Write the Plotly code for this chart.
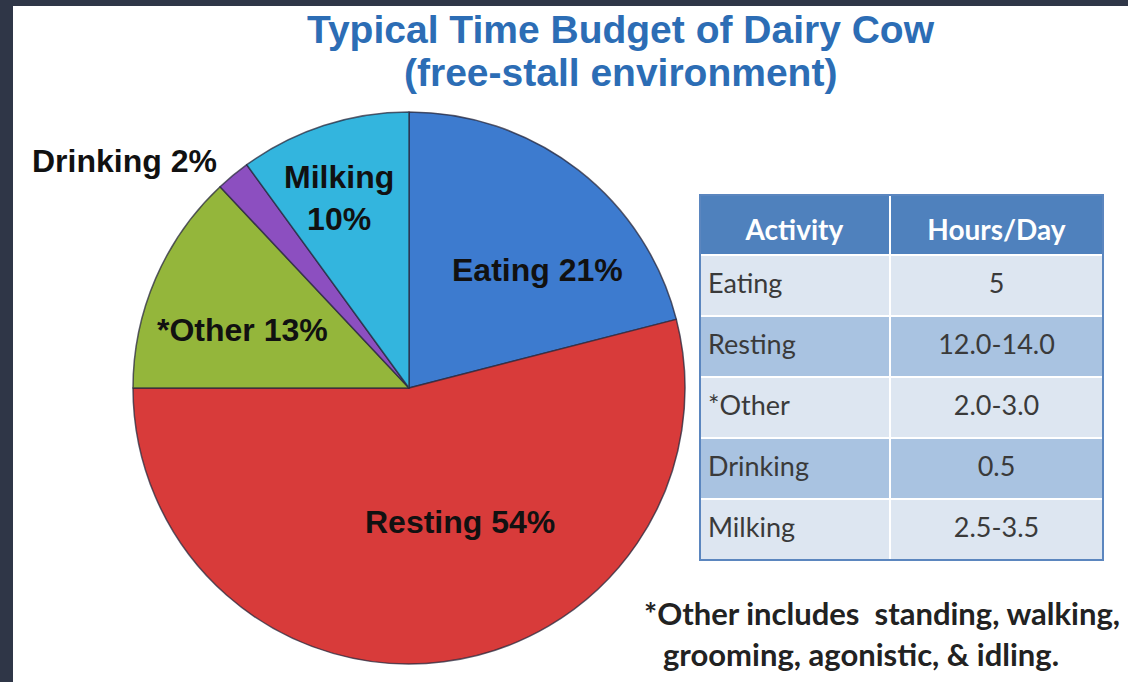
import plotly.graph_objects as go

W, H = 1128, 682

# data
activities = ["Eating", "Resting", "*Other", "Drinking", "Milking"]
pie_labels = ["Eating", "Resting", "*Other", "Drinking", "Milking"]
shares = [21, 54, 13, 2, 10]
hours = ["5", "12.0-14.0", "2.0-3.0", "0.5", "2.5-3.5"]
table_header = ["Activity", "Hours/Day"]
slice_colors = ["#3d7bcf", "#d83b3a", "#94b63b", "#8c4fc0", "#33b5de"]

title_lines = ["Typical Time Budget of Dairy Cow", "(free-stall environment)"]
footnote = ["*Other includes  standing, walking,", "grooming, agonistic, & idling."]


def px(x, y):
    """pikselposisjon -> paper-koordinater"""
    return x / W, 1 - y / H


fig = go.Figure()

# Kakediagram
fig.add_trace(go.Pie(
    labels=pie_labels,
    values=shares,
    sort=False,
    direction="clockwise",
    rotation=0,
    textinfo="none",
    hoverinfo="label+percent",
    marker=dict(colors=slice_colors, line=dict(color="rgba(40,40,60,0.75)", width=1.5)),
    domain=dict(x=[133 / W, 685 / W], y=[1 - 664 / H, 1 - 112 / H]),
    showlegend=False,
))

# Tabell - bakgrunn (fyll og linjer)
light, mid = "#dde6f1", "#a9c3e1"
row_fill = [light if i % 2 == 0 else mid for i in range(len(activities))]
blank = [""] * len(activities)
fig.add_trace(go.Table(
    domain=dict(x=[700 / W, 1103 / W], y=[1 - 560 / H, 1 - 195 / H]),
    columnwidth=[190, 213],
    header=dict(values=["", ""], fill_color="#4f81bd", height=60,
                line=dict(color="white", width=2)),
    cells=dict(values=[blank, blank], fill_color=[row_fill, row_fill], height=61,
               line=dict(color="white", width=2)),
))

# Tabell - tekst (flyttet ned litt for vertikal sentrering)
fig.add_trace(go.Table(
    domain=dict(x=[700 / W, 1103 / W], y=[1 - 570 / H, 1 - 204 / H]),
    columnwidth=[190, 213],
    header=dict(
        values=[f"<b>{h}</b>" for h in table_header],
        fill_color="rgba(0,0,0,0)",
        font=dict(family="Lato", size=28, color="white"),
        align="center",
        height=61,
        line=dict(width=0, color="rgba(0,0,0,0)"),
    ),
    cells=dict(
        values=[activities, hours],
        fill_color="rgba(0,0,0,0)",
        font=dict(family="Lato", size=27, color="#3a3a3a"),
        align=["left", "center"],
        height=61,
        line=dict(width=0, color="rgba(0,0,0,0)"),
    ),
))

# Tabellramme
x0, y1 = px(700, 195)
x1, y0 = px(1103, 560)
fig.add_shape(type="rect", xref="paper", yref="paper", x0=x0, x1=x1, y0=y0, y1=y1,
              line=dict(color="#5b86bf", width=2))

# Mørk kant venstre og topp
fig.add_shape(type="rect", xref="paper", yref="paper", x0=0, x1=13 / W, y0=0, y1=1,
              fillcolor="#2f3647", line=dict(width=0))
fig.add_shape(type="rect", xref="paper", yref="paper", x0=0, x1=1, y0=1 - 6 / H, y1=1,
              fillcolor="#2f3647", line=dict(width=0))

# Tittel
for line, (cx, cy) in zip(title_lines, [(621, 30), (620, 72)]):
    x, y = px(cx, cy)
    fig.add_annotation(x=x, y=y, xref="paper", yref="paper", text=f"<b>{line}</b>",
                       showarrow=False, xanchor="center", yanchor="middle",
                       font=dict(family="Liberation Sans", size=39, color="#2c6db5"))

# Etiketter i kaka
label_pos = {
    "Eating": (537, 270, "center"),
    "Resting": (460, 522, "center"),
    "*Other": (242, 330, "center"),
    "Drinking": (30, 161, "left"),
    "Milking": (339, 198, "center"),
}
for lab, val in zip(pie_labels, shares):
    cx, cy, anc = label_pos[lab]
    x, y = px(cx, cy)
    txt = f"{lab}<br>{val}%" if lab == "Milking" else f"{lab} {val}%"
    fig.add_annotation(x=x, y=y, xref="paper", yref="paper", text=f"<b>{txt}</b>",
                       showarrow=False, xanchor=anc, yanchor="middle",
                       font=dict(family="Liberation Sans", size=32, color="#111111"))

# Fotnote
for line, (lx, ly) in zip(footnote, [(642, 613), (661, 654)]):
    x, y = px(lx, ly)
    fig.add_annotation(x=x, y=y, xref="paper", yref="paper", text=f"<b>{line}</b>",
                       showarrow=False, xanchor="left", yanchor="middle",
                       font=dict(family="Lato", size=31, color="#222222"))

fig.update_layout(
    width=W, height=H,
    margin=dict(l=0, r=0, t=0, b=0),
    paper_bgcolor="white",
    plot_bgcolor="white",
)

fig.write_html("out.html", config={"displayModeBar": False},
               post_script="document.body.style.margin='0';")
